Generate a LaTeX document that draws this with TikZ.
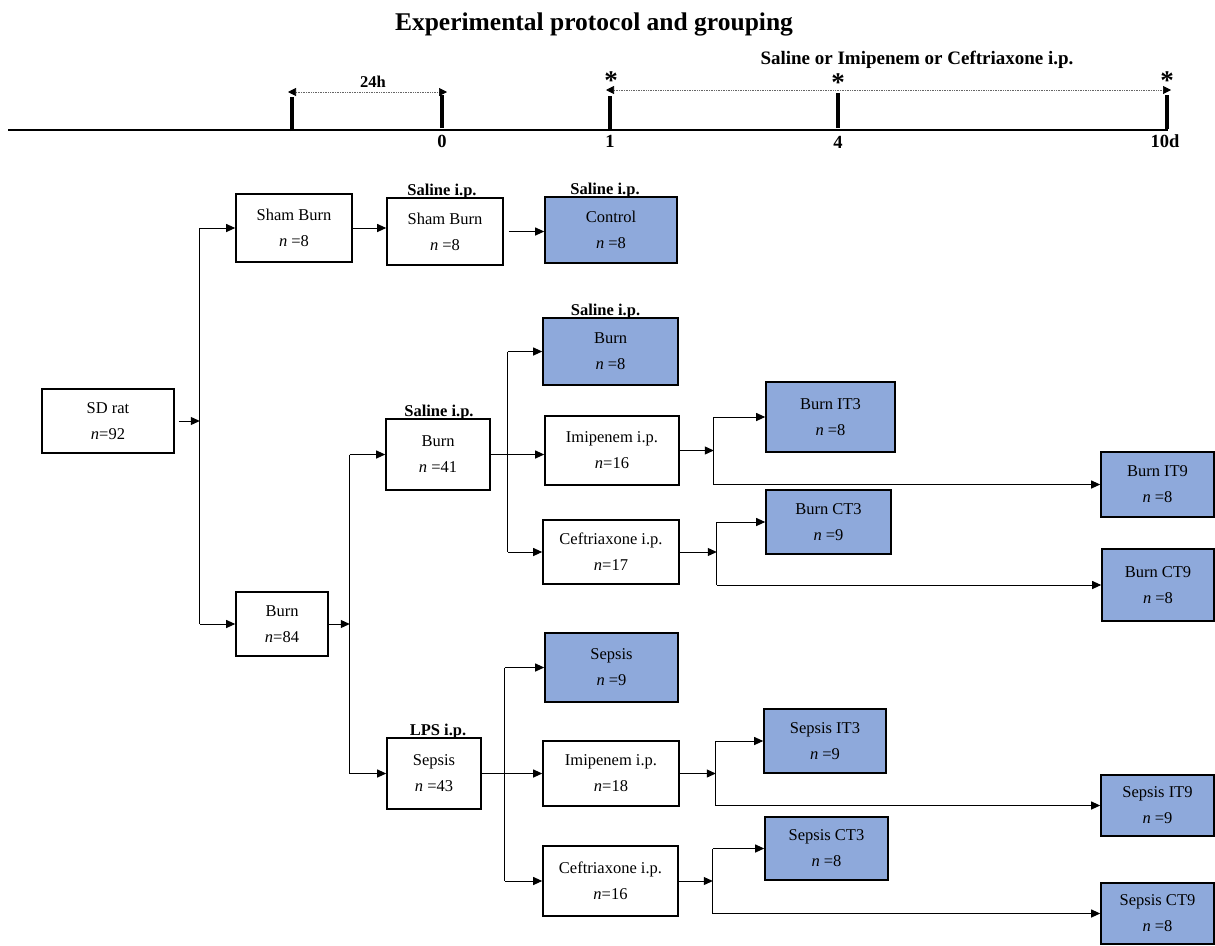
\documentclass[tikz,border=0pt]{standalone}
\usepackage{fontspec}
\setmainfont{Liberation Serif}
\usetikzlibrary{arrows.meta}
\definecolor{boxblue}{RGB}{142,169,219}
\begin{document}
\begin{tikzpicture}[x=1pt,y=-1pt,
  box/.style={draw, line width=1.6pt, inner sep=0pt, align=center,
    font=\fontsize{16.5}{26}\selectfont},
  bluebox/.style={box, fill=boxblue},
  conn/.style={line width=1pt},
  arr/.style={conn, -{Triangle[length=9pt,width=8pt]}},
  lbl/.style={font=\bfseries\fontsize{16.5}{20}\selectfont, inner sep=0pt},
  tlbl/.style={font=\bfseries\fontsize{18.5}{20}\selectfont, inner sep=0pt},
  star/.style={font=\bfseries\fontsize{27}{28}\selectfont, inner sep=0pt},
  tick/.style={line width=3.5pt},
  dotline/.style={densely dotted, line width=0.7pt, black!60,
    {Triangle[length=8pt,width=8pt,color=black]}-{Triangle[length=8pt,width=8pt,color=black]}}
]
\useasboundingbox (0,0) rectangle (1215,945);

% title
\node[font=\bfseries\fontsize{25.5}{30}\selectfont, inner sep=0pt] (title) at (594,24) {Experimental protocol and grouping};

% timeline
\coordinate (tlA) at (8,130);
\coordinate (tlB) at (1168,130);
\draw[line width=1.6pt] (tlA) -- (tlB);
\draw[tick] (292,131) -- (292,97);
\draw[tick] (442,128) -- (442,95);
\draw[tick] (610,129) -- (610,96);
\draw[tick] (838,128) -- (838,93);
\draw[tick] (1167,129) -- (1167,95);
\draw[dotline] (288,92) -- (447,92);
\draw[dotline] (606,90) -- (1171,90);
\node[lbl] (h24) at (373,82) {24h};
\node[font=\bfseries\fontsize{19}{22}\selectfont, inner sep=0pt] (drugs) at (917,60) {Saline or Imipenem or Ceftriaxone i.p.};
\node[star] (s1) at (611,81) {*};
\node[star] (s4) at (838,83) {*};
\node[star] (s10) at (1167,81) {*};
\node[tlbl] (t0) at (442,141) {0};
\node[tlbl] (t1) at (610,141) {1};
\node[tlbl] (t4) at (838,142) {4};
\node[tlbl] (t10) at (1165,141) {10d};

% boxes
\node[box, minimum width=132pt, minimum height=64pt] (sd) at (108,421) {SD rat\\\textit{n}=92};
\node[box, minimum width=116pt, minimum height=68pt] (shamA) at (294,228) {Sham Burn\\\textit{n} =8};
\node[box, minimum width=116pt, minimum height=67pt] (shamB) at (445,231.5) {Sham Burn\\\textit{n} =8};
\node[bluebox, minimum width=132pt, minimum height=66pt] (control) at (611,230) {Control\\\textit{n} =8};
\node[bluebox, minimum width=135pt, minimum height=67pt] (burnS) at (610.5,351.5) {Burn\\\textit{n} =8};
\node[box, minimum width=104pt, minimum height=71pt] (burn41) at (438,454.5) {Burn\\\textit{n} =41};
\node[box, minimum width=92pt, minimum height=64pt] (burn84) at (282,624) {Burn\\\textit{n}=84};
\node[box, minimum width=134pt, minimum height=69pt] (imi16) at (612,450.5) {Imipenem i.p.\\\textit{n}=16};
\node[box, minimum width=136pt, minimum height=64pt] (cef17) at (611,552) {Ceftriaxone i.p.\\\textit{n}=17};
\node[bluebox, minimum width=129pt, minimum height=70pt] (bIT3) at (830.5,417) {Burn IT3\\\textit{n} =8};
\node[bluebox, minimum width=125pt, minimum height=64pt] (bCT3) at (828.5,522) {Burn CT3\\\textit{n} =9};
\node[bluebox, minimum width=113pt, minimum height=65pt] (bIT9) at (1157.5,484.5) {Burn IT9\\\textit{n} =8};
\node[bluebox, minimum width=112pt, minimum height=72pt] (bCT9) at (1158,585) {Burn CT9\\\textit{n} =8};
\node[bluebox, minimum width=133pt, minimum height=69pt] (sepS) at (611.5,667.5) {Sepsis\\\textit{n} =9};
\node[box, minimum width=94pt, minimum height=71pt] (sep43) at (434,773.5) {Sepsis\\\textit{n} =43};
\node[box, minimum width=136pt, minimum height=65pt] (imi18) at (611,773.5) {Imipenem i.p.\\\textit{n}=18};
\node[box, minimum width=135pt, minimum height=70pt] (cef16) at (610.5,881) {Ceftriaxone i.p.\\\textit{n}=16};
\node[bluebox, minimum width=122pt, minimum height=64pt] (sIT3) at (825,741) {Sepsis IT3\\\textit{n} =9};
\node[bluebox, minimum width=123pt, minimum height=63pt] (sCT3) at (826.5,848.5) {Sepsis CT3\\\textit{n} =8};
\node[bluebox, minimum width=113pt, minimum height=61pt] (sIT9) at (1157.5,805.5) {Sepsis IT9\\\textit{n} =9};
\node[bluebox, minimum width=113pt, minimum height=61pt] (sCT9) at (1157.5,913.5) {Sepsis CT9\\\textit{n} =8};

% labels above boxes
\node[lbl, anchor=south] (lShamB) at ([yshift=-2pt,xshift=-3pt]shamB.north) {Saline i.p.};
\node[lbl, anchor=south] (lControl) at ([yshift=-2pt,xshift=-6pt]control.north) {Saline i.p.};
\node[lbl, anchor=south] (lBurnS) at ([yshift=-2pt,xshift=-5pt]burnS.north) {Saline i.p.};
\node[lbl, anchor=south] (lBurn41) at ([yshift=-2pt,xshift=1pt]burn41.north) {Saline i.p.};
\node[lbl, anchor=south] (lSep43) at ([yshift=-2pt,xshift=4pt]sep43.north) {LPS i.p.};

% connectors: SD rat
\draw[arr, shorten <=4pt] (sd.east) -- ++(25,0) coordinate (jA);
\draw[conn] (jA |- shamA.west) -- (jA |- burn84.west);
\draw[arr] (jA |- shamA.west) -- (shamA.west);
\draw[arr] (jA |- burn84.west) -- (burn84.west);
% sham
\draw[arr] (shamA.east) -- (shamA.east -| shamB.west);
\draw[arr, shorten <=5pt] (shamB.east) -- (shamB.east -| control.west);
% burn 84
\draw[arr] (burn84.east) -- ++(21,0) coordinate (jB);
\draw[conn] (jB |- burn41.west) -- (jB |- sep43.west);
\draw[arr] (jB |- burn41.west) -- (burn41.west);
\draw[arr] (jB |- sep43.west) -- (sep43.west);
% burn 41
\path (burn41.east) ++(17,0) coordinate (jC);
\draw[arr] (burn41.east) -- (burn41.east -| imi16.west);
\draw[conn] (jC |- burnS.west) -- (jC |- cef17.west);
\draw[arr] (jC |- burnS.west) -- (burnS.west);
\draw[arr] (jC |- cef17.west) -- (cef17.west);
% imipenem 16
\draw[arr] (imi16.east) -- ++(34,0) coordinate (jD);
\draw[conn] (jD |- bIT3.west) -- (jD |- bIT9.west);
\draw[arr] (jD |- bIT3.west) -- (bIT3.west);
\draw[arr] (jD |- bIT9.west) -- (bIT9.west);
% ceftriaxone 17
\draw[arr] (cef17.east) -- ++(37,0) coordinate (jE);
\draw[conn] (jE |- bCT3.west) -- (jE |- bCT9.west);
\draw[arr] (jE |- bCT3.west) -- (bCT3.west);
\draw[arr] (jE |- bCT9.west) -- (bCT9.west);
% sepsis 43
\path (sep43.east) ++(23,0) coordinate (jF);
\draw[arr] (sep43.east) -- (sep43.east -| imi18.west);
\draw[conn] (jF |- sepS.west) -- (jF |- cef16.west);
\draw[arr] (jF |- sepS.west) -- (sepS.west);
\draw[arr] (jF |- cef16.west) -- (cef16.west);
% imipenem 18
\draw[arr] (imi18.east) -- ++(36,0) coordinate (jG);
\draw[conn] (jG |- sIT3.west) -- (jG |- sIT9.west);
\draw[arr] (jG |- sIT3.west) -- (sIT3.west);
\draw[arr] (jG |- sIT9.west) -- (sIT9.west);
% ceftriaxone 16
\draw[arr] (cef16.east) -- ++(34,0) coordinate (jH);
\draw[conn] (jH |- sCT3.west) -- (jH |- sCT9.west);
\draw[arr] (jH |- sCT3.west) -- (sCT3.west);
\draw[arr] (jH |- sCT9.west) -- (sCT9.west);
\end{tikzpicture}
\end{document}
